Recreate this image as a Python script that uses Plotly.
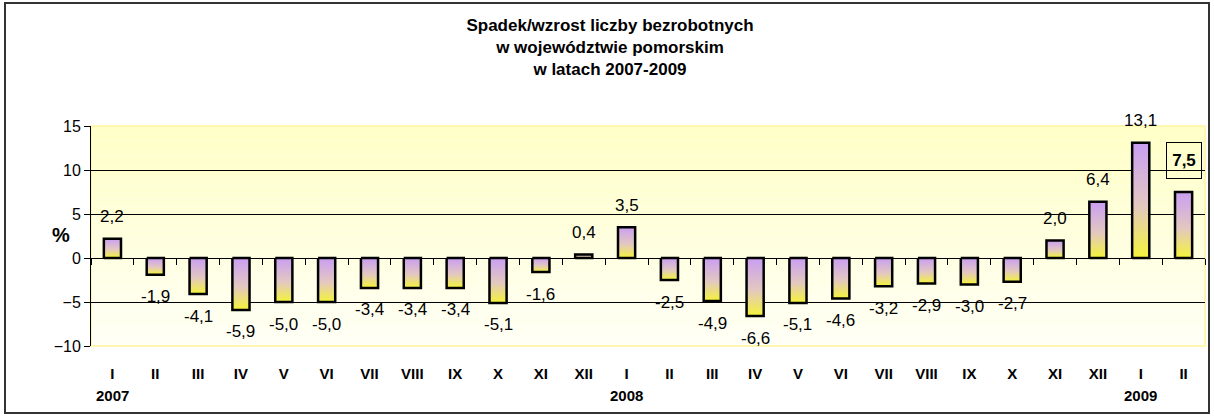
import plotly.graph_objects as go

# ---- data ----
months = ["I", "II", "III", "IV", "V", "VI", "VII", "VIII", "IX", "X", "XI", "XII",
          "I", "II", "III", "IV", "V", "VI", "VII", "VIII", "IX", "X", "XI", "XII",
          "I", "II"]
years = ["2007", "2008", "2009"]
values = [2.2, -1.9, -4.1, -5.9, -5.0, -5.0, -3.4, -3.4, -3.4, -5.1, -1.6, 0.4,
          3.5, -2.5, -4.9, -6.6, -5.1, -4.6, -3.2, -2.9, -3.0, -2.7, 2.0, 6.4,
          13.1, 7.5]
y_ticks = [-10, -5, 0, 5, 10, 15]
grid_ticks = [-5, 5, 10]
title_lines = ["Spadek/wzrost liczby bezrobotnych",
               "w województwie pomorskim",
               "w latach 2007-2009"]
y_title = "%"

FONT = "Arial, 'Liberation Sans', sans-serif"
W, H = 1214, 416
ML, MR, MT, MB = 91, 9, 126, 70
PW, PH = W - ML - MR, H - MT - MB

n = len(values)
x_idx = list(range(n))
hw = 0.2

fig = go.Figure()

# bars as gradient-filled rectangles
for i, v in zip(x_idx, values):
    x0, x1 = i - hw, i + hw
    fig.add_trace(go.Scatter(
        x=[x0, x1, x1, x0, x0], y=[0, 0, v, v, 0],
        mode="lines", fill="toself",
        line=dict(color="black", width=2.5),
        fillgradient=dict(type="vertical",
                          colorscale=[[0, "#F4F43A"], [0.45, "#E3C8C0"], [1, "#C99EF2"]]),
        hoverinfo="skip", showlegend=False,
    ))

# dummy trace for overlay axes
fig.add_trace(go.Scatter(x=[], y=[], xaxis="x2", yaxis="y2", showlegend=False, hoverinfo="skip"))

# data labels
last = n - 1
for i, v in zip(x_idx, values):
    txt = f"{v:.1f}".replace(".", ",")
    if i == last:
        fig.add_annotation(x=i, y=v, text=f"<b>{txt}</b>", showarrow=False,
                           yshift=32, yanchor="middle", xanchor="center",
                           font=dict(family=FONT, size=17, color="black"),
                           bordercolor="black", borderwidth=1, borderpad=1,
                           width=32, height=33)
    else:
        fig.add_annotation(x=i, y=v, text=txt, showarrow=False,
                           yshift=22 if v >= 0 else -22, yanchor="middle",
                           font=dict(family=FONT, size=17, color="black"))

# year labels under the first month of each year
year_pos = [i for i, m in enumerate(months) if m == "I"]
for xp, yr in zip(year_pos, years):
    fig.add_annotation(x=xp, y=-49 / PH, yref="paper", text=f"<b>{yr}</b>",
                       showarrow=False, yanchor="middle",
                       font=dict(family=FONT, size=15, color="black"))

# y axis title
fig.add_annotation(x=(50 - ML) / PW, y=(346 - 235) / PH, xref="paper", yref="paper",
                   text=f"<b>{y_title}</b>", showarrow=False,
                   font=dict(family=FONT, size=20, color="black"))

# background gradient bands
nb = 30
top_c = (255, 255, 198)
bot_c = (255, 255, 246)
shapes = []
for k in range(nb):
    t = (k + 0.5) / nb
    c = tuple(round(bot_c[j] + (top_c[j] - bot_c[j]) * t) for j in range(3))
    shapes.append(dict(type="rect", xref="paper", yref="paper", x0=0, x1=1,
                       y0=k / nb, y1=(k + 1) / nb, line=dict(width=0),
                       fillcolor=f"rgb{c}", layer="below"))
shapes.append(dict(type="rect", xref="paper", yref="paper", x0=0, x1=1, y0=0, y1=1,
                   line=dict(color="#FFF6B0", width=2), layer="below"))
# outer frame
shapes.append(dict(type="rect", xref="paper", yref="paper",
                   x0=(5 - ML) / PW, x1=(1209 - ML) / PW,
                   y0=(H - MB - 413) / PH, y1=(H - MB - 3) / PH,
                   line=dict(color="#333333", width=2), layer="above"))

fig.update_layout(
    width=W, height=H,
    margin=dict(l=ML, r=MR, t=MT, b=MB, pad=0),
    paper_bgcolor="white", plot_bgcolor="white",
    showlegend=False,
    title=dict(text="<br>".join(f"<b>{t}</b>" for t in title_lines),
               x=610 / W, xref="container", xanchor="center",
               y=1 - 31 / H, yref="container", yanchor="top",
               font=dict(family=FONT, size=17, color="black")),
    xaxis=dict(range=[-0.5, n - 0.5], tickmode="array", tickvals=x_idx, ticktext=months,
               ticks="", showline=False, showgrid=False, zeroline=False,
               tickfont=dict(family=FONT, size=15, color="black", weight="bold"),
               ticklabelstandoff=17),
    xaxis2=dict(overlaying="x", anchor="free", position=10 / 25, side="bottom",
                range=[-0.5, n - 0.5], tickmode="array",
                tickvals=[i - 0.5 for i in range(n + 1)],
                ticks="outside", ticklen=6, tickcolor="black", tickwidth=1,
                showticklabels=False, showline=True, linecolor="black", linewidth=1,
                showgrid=False, zeroline=False),
    yaxis=dict(range=[y_ticks[0], y_ticks[-1]], tickmode="array", tickvals=y_ticks,
               ticks="outside", ticklen=6, tickcolor="black",
               showline=True, linecolor="black", linewidth=1,
               showgrid=False, zeroline=False,
               tickfont=dict(family=FONT, size=16, color="black")),
    yaxis2=dict(overlaying="y", range=[y_ticks[0], y_ticks[-1]], tickmode="array",
                tickvals=grid_ticks, showticklabels=False, ticks="",
                showgrid=True, gridcolor="black", gridwidth=1,
                showline=False, zeroline=False),
    shapes=shapes,
)

fig.write_html("out.html", config={"displayModeBar": False},
               post_script="document.body.style.margin='0';")
